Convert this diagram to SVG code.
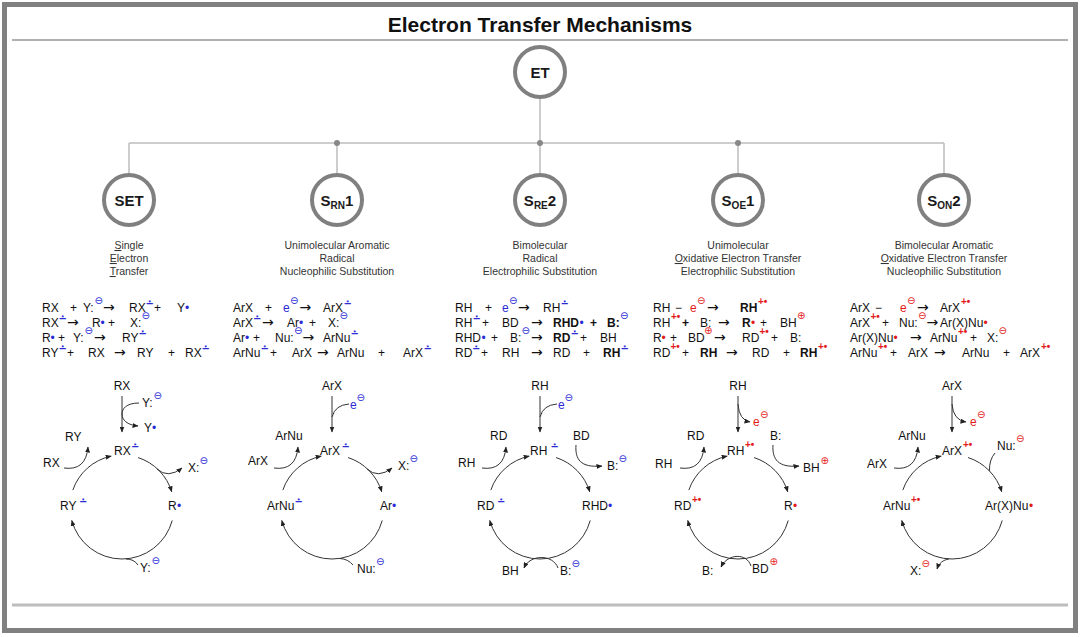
<svg xmlns="http://www.w3.org/2000/svg" width="1080" height="637" viewBox="0 0 1080 637">
<defs>
<style>
text{font-family:"Liberation Sans",Arial,Helvetica,sans-serif;fill:#111}
.eq{font-size:12px}
.b{font-weight:bold}
.bl{fill:#2b2bd6}
.rd{fill:#e31b1b}
.ra{font-family:"DejaVu Sans",sans-serif;font-size:10px;font-weight:bold;fill:#2b2bd6}
.sup{font-size:10px;font-weight:bold}
.s{font-family:"DejaVu Sans",sans-serif;font-size:10px}
.to{font-family:"DejaVu Sans",sans-serif;font-size:14px}
.desc{font-size:10.5px;fill:#333;text-anchor:middle}
.u{text-decoration:underline}
.node{fill:#fff;stroke:#808080;stroke-width:4}
.nt{font-size:15px;font-weight:bold;fill:#1a1a1a;text-anchor:middle}
.tree{stroke:#bdbdbd;stroke-width:1.5;fill:none}
.dot{fill:#888}
.cy{fill:none;stroke:#333;stroke-width:1}
.ar{marker-end:url(#ah)}
.mid{text-anchor:middle}
</style>
<marker id="ah" viewBox="0 0 6 5" refX="5.5" refY="2.5" markerWidth="6" markerHeight="5" markerUnits="userSpaceOnUse" orient="auto"><path d="M0,0 L6,2.5 L0,5 z" fill="#222"/></marker>
<path id="arcA" d="M16.07,-49.45 A52,52 0 0 1 49.73,-15.2"/>
<path id="arcB" d="M50.23,13.46 A52,52 0 0 1 -50.23,13.46"/>
<path id="arcC" d="M-49.17,-16.93 A52,52 0 0 1 -10.81,-50.86"/>
</defs>

<rect x="4.5" y="4.5" width="1071" height="626" fill="#fff" stroke="#808080" stroke-width="5"/>
<text x="540" y="32" font-size="21" font-weight="bold" text-anchor="middle" fill="#111">Electron Transfer Mechanisms</text>
<line x1="12" y1="40" x2="1068" y2="40" stroke="#b0b0b0" stroke-width="2"/>
<line x1="12" y1="605" x2="1068" y2="605" stroke="#bdbdbd" stroke-width="3"/>

<g id="connectors">
<path class="tree" d="M540,99 V143 M129,143 H944 M129,143 V173 M337,143 V173 M540,143 V173 M738,143 V173 M944,143 V173"/>
<circle class="dot" cx="337" cy="143" r="3"/>
<circle class="dot" cx="540" cy="143" r="3"/>
<circle class="dot" cx="738" cy="143" r="3"/>
</g>

<g id="node-ET"><circle class="node" cx="540" cy="72" r="25"/><text class="nt" x="540" y="77.5">ET</text></g>
<g id="node-SET"><circle class="node" cx="129" cy="200" r="25"/><text class="nt" x="129" y="205.5">SET</text></g>
<g id="node-SRN1"><circle class="node" cx="337" cy="200" r="25"/><text class="nt" x="337" y="205.5">S<tspan font-size="10" dy="3">RN</tspan><tspan dy="-3">1</tspan></text></g>
<g id="node-SRE2"><circle class="node" cx="540" cy="200" r="25"/><text class="nt" x="540" y="205.5">S<tspan font-size="10" dy="3">RE</tspan><tspan dy="-3">2</tspan></text></g>
<g id="node-SOE1"><circle class="node" cx="738" cy="200" r="25"/><text class="nt" x="738" y="205.5">S<tspan font-size="10" dy="3">OE</tspan><tspan dy="-3">1</tspan></text></g>
<g id="node-SON2"><circle class="node" cx="944" cy="200" r="25"/><text class="nt" x="944" y="205.5">S<tspan font-size="10" dy="3">ON</tspan><tspan dy="-3">2</tspan></text></g>

<g id="descriptions">
<text class="desc" x="129" y="249"><tspan class="u">S</tspan>ingle</text>
<text class="desc" x="129" y="262"><tspan class="u">E</tspan>lectron</text>
<text class="desc" x="129" y="275"><tspan class="u">T</tspan>ransfer</text>
<text class="desc" x="337" y="249">Unimolecular Aromatic</text>
<text class="desc" x="337" y="262">Radical</text>
<text class="desc" x="337" y="275">Nucleophilic Substitution</text>
<text class="desc" x="540" y="249">Bimolecular</text>
<text class="desc" x="540" y="262">Radical</text>
<text class="desc" x="540" y="275">Electrophilic Substitution</text>
<text class="desc" x="738" y="249">Unimolecular</text>
<text class="desc" x="738" y="262"><tspan class="u">O</tspan>xidative Electron Transfer</text>
<text class="desc" x="738" y="275">Electrophilic Substitution</text>
<text class="desc" x="944" y="249">Bimolecular Aromatic</text>
<text class="desc" x="944" y="262"><tspan class="u">O</tspan>xidative Electron Transfer</text>
<text class="desc" x="944" y="275">Nucleophilic Substitution</text>
</g>

<g id="equations-SET">
<text class="eq"><tspan x="42" y="312">RX</tspan><tspan x="70" y="312">+</tspan><tspan x="83" y="312">Y:</tspan><tspan x="94.5" y="304" class="s bl">⊖</tspan><tspan x="103" y="312" class="to">→</tspan><tspan x="129" y="312">RX</tspan><tspan x="145.5" y="307.2" class="ra">∸</tspan><tspan x="154" y="312">+</tspan><tspan x="177" y="312">Y</tspan><tspan x="185" y="312" class="bl">•</tspan></text>
<text class="eq"><tspan x="42" y="327">RX</tspan><tspan x="58.5" y="322.2" class="ra">∸</tspan><tspan x="67" y="327" class="to">→</tspan><tspan x="92" y="327">R</tspan><tspan x="100.5" y="327" class="bl">•</tspan><tspan x="108" y="327">+</tspan><tspan x="130" y="327">X:</tspan><tspan x="141.5" y="319" class="s bl">⊖</tspan></text>
<text class="eq"><tspan x="42" y="342">R</tspan><tspan x="50.5" y="342" class="bl">•</tspan><tspan x="58" y="342">+</tspan><tspan x="73" y="342">Y:</tspan><tspan x="84.5" y="334" class="s bl">⊖</tspan><tspan x="94" y="342" class="to">→</tspan><tspan x="122" y="342">RY</tspan><tspan x="138.5" y="337.2" class="ra">∸</tspan></text>
<text class="eq"><tspan x="42" y="357">RY</tspan><tspan x="58.5" y="352.2" class="ra">∸</tspan><tspan x="67" y="357">+</tspan><tspan x="88" y="357">RX</tspan><tspan x="114" y="357" class="to">→</tspan><tspan x="137" y="357">RY</tspan><tspan x="168" y="357">+</tspan><tspan x="185" y="357">RX</tspan><tspan x="201.5" y="352.2" class="ra">∸</tspan></text>
</g>

<g id="equations-SRN1">
<text class="eq"><tspan x="233" y="312">ArX</tspan><tspan x="265" y="312">+</tspan><tspan x="283" y="312" class="bl">e</tspan><tspan x="290" y="304" class="s bl">⊖</tspan><tspan x="299.5" y="312" class="to">→</tspan><tspan x="323" y="312">ArX</tspan><tspan x="343.5" y="307.2" class="ra">∸</tspan></text>
<text class="eq"><tspan x="233" y="327">ArX</tspan><tspan x="253" y="322.2" class="ra">∸</tspan><tspan x="262" y="327" class="to">→</tspan><tspan x="287" y="327">Ar</tspan><tspan x="299" y="327" class="bl">•</tspan><tspan x="309" y="327">+</tspan><tspan x="328" y="327">X:</tspan><tspan x="339.5" y="319" class="s bl">⊖</tspan></text>
<text class="eq"><tspan x="233" y="342">Ar</tspan><tspan x="245" y="342" class="bl">•</tspan><tspan x="253" y="342">+</tspan><tspan x="275" y="342">Nu:</tspan><tspan x="294" y="334" class="s bl">⊖</tspan><tspan x="302.5" y="342" class="to">→</tspan><tspan x="323" y="342">ArNu</tspan><tspan x="350.5" y="337.2" class="ra">∸</tspan></text>
<text class="eq"><tspan x="233" y="357">ArNu</tspan><tspan x="260.5" y="352.2" class="ra">∸</tspan><tspan x="270" y="357">+</tspan><tspan x="292" y="357">ArX</tspan><tspan x="317" y="357" class="to">→</tspan><tspan x="337" y="357">ArNu</tspan><tspan x="378" y="357">+</tspan><tspan x="403" y="357">ArX</tspan><tspan x="423.5" y="352.2" class="ra">∸</tspan></text>
</g>

<g id="equations-SRE2">
<text class="eq"><tspan x="455" y="312">RH</tspan><tspan x="485" y="312">+</tspan><tspan x="502" y="312" class="bl">e</tspan><tspan x="509" y="304" class="s bl">⊖</tspan><tspan x="518" y="312" class="to">→</tspan><tspan x="543" y="312">RH</tspan><tspan x="560.5" y="307.2" class="ra">∸</tspan></text>
<text class="eq"><tspan x="455" y="327">RH</tspan><tspan x="472.5" y="322.2" class="ra">∸</tspan><tspan x="482" y="327">+</tspan><tspan x="502" y="327">BD</tspan><tspan x="531" y="327" class="to">→</tspan><tspan x="553" y="327" class="b">RHD</tspan><tspan x="579.5" y="327" class="bl">•</tspan><tspan x="590" y="327" class="b">+</tspan><tspan x="607" y="327" class="b">B:</tspan><tspan x="620" y="319" class="s bl">⊖</tspan></text>
<text class="eq"><tspan x="455" y="342">RHD</tspan><tspan x="481.5" y="342" class="bl">•</tspan><tspan x="491" y="342">+</tspan><tspan x="510" y="342">B:</tspan><tspan x="521.5" y="334" class="s bl">⊖</tspan><tspan x="531" y="342" class="to">→</tspan><tspan x="553" y="342" class="b">RD</tspan><tspan x="570.5" y="337.2" class="ra">∸</tspan><tspan x="580" y="342">+</tspan><tspan x="600" y="342">BH</tspan></text>
<text class="eq"><tspan x="455" y="357">RD</tspan><tspan x="472" y="352.2" class="ra">∸</tspan><tspan x="481" y="357">+</tspan><tspan x="502" y="357">RH</tspan><tspan x="531" y="357" class="to">→</tspan><tspan x="553" y="357">RD</tspan><tspan x="583" y="357">+</tspan><tspan x="603" y="357" class="b">RH</tspan><tspan x="620.5" y="352.2" class="ra">∸</tspan></text>
</g>

<g id="equations-SOE1">
<text class="eq"><tspan x="653" y="312">RH</tspan><tspan x="675" y="312">−</tspan><tspan x="690" y="312" class="rd">e</tspan><tspan x="697" y="304" class="s rd">⊖</tspan><tspan x="707" y="312" class="to">→</tspan><tspan x="740" y="312" class="b">RH</tspan><tspan x="758" y="305" class="rd sup">+•</tspan></text>
<text class="eq"><tspan x="653" y="327">RH</tspan><tspan x="671" y="320" class="rd sup">+•</tspan><tspan x="682" y="327" class="b">+</tspan><tspan x="700" y="327">B:</tspan><tspan x="718" y="327" class="to">→</tspan><tspan x="742" y="327" class="b">R</tspan><tspan x="751" y="327" class="rd">•</tspan><tspan x="760" y="327">+</tspan><tspan x="780" y="327">BH</tspan><tspan x="797" y="319" class="s rd">⊕</tspan></text>
<text class="eq"><tspan x="653" y="342">R</tspan><tspan x="661.5" y="342" class="rd">•</tspan><tspan x="670" y="342">+</tspan><tspan x="688" y="342">BD</tspan><tspan x="704" y="334" class="s rd">⊕</tspan><tspan x="714" y="342" class="to">→</tspan><tspan x="742" y="342">RD</tspan><tspan x="759.5" y="335" class="rd sup">+•</tspan><tspan x="771" y="342">+</tspan><tspan x="790" y="342">B:</tspan></text>
<text class="eq"><tspan x="653" y="357">RD</tspan><tspan x="670.5" y="350" class="rd sup">+•</tspan><tspan x="682" y="357">+</tspan><tspan x="700" y="357" class="b">RH</tspan><tspan x="726" y="357" class="to">→</tspan><tspan x="752" y="357">RD</tspan><tspan x="783" y="357">+</tspan><tspan x="800" y="357" class="b">RH</tspan><tspan x="818" y="350" class="rd sup">+•</tspan></text>
</g>

<g id="equations-SON2">
<text class="eq"><tspan x="850" y="312">ArX</tspan><tspan x="875" y="312">−</tspan><tspan x="900" y="312" class="rd">e</tspan><tspan x="907" y="304" class="s rd">⊖</tspan><tspan x="917" y="312" class="to">→</tspan><tspan x="940" y="312">ArX</tspan><tspan x="961" y="305" class="rd sup">+•</tspan></text>
<text class="eq"><tspan x="850" y="327">ArX</tspan><tspan x="870.5" y="320" class="rd sup">+•</tspan><tspan x="882" y="327">+</tspan><tspan x="899" y="327">Nu:</tspan><tspan x="918" y="319" class="s rd">⊖</tspan><tspan x="926.5" y="327" class="to">→</tspan><tspan x="940" y="327">Ar(X)Nu</tspan><tspan x="983.5" y="327" class="rd">•</tspan></text>
<text class="eq"><tspan x="850" y="342">Ar(X)Nu</tspan><tspan x="893.5" y="342" class="rd">•</tspan><tspan x="910" y="342" class="to">→</tspan><tspan x="930" y="342">ArNu</tspan><tspan x="958" y="335" class="rd sup">+•</tspan><tspan x="970" y="342">+</tspan><tspan x="987" y="342">X:</tspan><tspan x="998.5" y="334" class="s rd">⊖</tspan></text>
<text class="eq"><tspan x="850" y="357">ArNu</tspan><tspan x="878" y="350" class="rd sup">+•</tspan><tspan x="890" y="357">+</tspan><tspan x="908" y="357">ArX</tspan><tspan x="934" y="357" class="to">→</tspan><tspan x="962" y="357">ArNu</tspan><tspan x="1003" y="357">+</tspan><tspan x="1020" y="357">ArX</tspan><tspan x="1041" y="350" class="rd sup">+•</tspan></text>
</g>

<g id="cycle-SET" transform="translate(122,507)">
<use href="#arcA" class="cy ar"/><use href="#arcB" class="cy ar"/><use href="#arcC" class="cy ar"/>
<path class="cy ar" d="M0,-111 V-75"/>
<path class="cy ar" d="M17,-104 C4,-104 0,-98 0,-93 C0,-87 5,-82 16,-81"/>
<path class="cy ar" d="M35,-38 Q46,-28 60,-39"/>
<path class="cy ar" d="M-58,-39 Q-36,-36 -34,-60"/>
<path class="cy" d="M16,58 Q12,52 4,52"/>
<text class="eq mid" x="0" y="-117">RX</text>
<text class="eq"><tspan x="-8" y="-52">RX</tspan><tspan x="9" y="-56.8" class="ra">∸</tspan></text>
<text class="eq"><tspan x="20" y="-100">Y:</tspan><tspan x="31.5" y="-108" class="s bl">⊖</tspan></text>
<text class="eq"><tspan x="22" y="-75">Y</tspan><tspan x="30" y="-75" class="bl">•</tspan></text>
<text class="eq"><tspan x="46" y="3">R</tspan><tspan x="55" y="3" class="bl">•</tspan></text>
<text class="eq"><tspan x="66" y="-35">X:</tspan><tspan x="77.5" y="-43" class="s bl">⊖</tspan></text>
<text class="eq"><tspan x="-62" y="3">RY</tspan><tspan x="-43" y="-1.8" class="ra">∸</tspan></text>
<text class="eq" x="-57" y="-66">RY</text>
<text class="eq" x="-79" y="-40">RX</text>
<text class="eq"><tspan x="18" y="65">Y:</tspan><tspan x="29.5" y="57" class="s bl">⊖</tspan></text>
</g>

<g id="cycle-SRN1" transform="translate(332,507)">
<use href="#arcA" class="cy ar"/><use href="#arcB" class="cy ar"/><use href="#arcC" class="cy ar"/>
<path class="cy ar" d="M0,-111 V-75"/>
<path class="cy" d="M17,-103 Q3,-102 0,-90"/>
<path class="cy ar" d="M35,-38 Q46,-28 60,-39"/>
<path class="cy ar" d="M-58,-39 Q-36,-36 -34,-60"/>
<path class="cy" d="M21,58 Q16,52 8,51.5"/>
<text class="eq mid" x="0" y="-117">ArX</text>
<text class="eq"><tspan x="18" y="-98" class="bl">e</tspan><tspan x="24.5" y="-106" class="s bl">⊖</tspan></text>
<text class="eq"><tspan x="-12" y="-52">ArX</tspan><tspan x="9.5" y="-56.8" class="ra">∸</tspan></text>
<text class="eq"><tspan x="48" y="3">Ar</tspan><tspan x="60" y="3" class="bl">•</tspan></text>
<text class="eq"><tspan x="66" y="-37">X:</tspan><tspan x="77.5" y="-45" class="s bl">⊖</tspan></text>
<text class="eq"><tspan x="-65" y="3">ArNu</tspan><tspan x="-37.5" y="-1.8" class="ra">∸</tspan></text>
<text class="eq mid" x="-43" y="-67">ArNu</text>
<text class="eq" x="-84" y="-42">ArX</text>
<text class="eq"><tspan x="25" y="66">Nu:</tspan><tspan x="44" y="58" class="s bl">⊖</tspan></text>
</g>

<g id="cycle-SRE2" transform="translate(540,507)">
<use href="#arcA" class="cy ar"/><use href="#arcB" class="cy ar"/><use href="#arcC" class="cy ar"/>
<path class="cy ar" d="M0,-111 V-75"/>
<path class="cy" d="M17,-103 Q3,-102 0,-90"/>
<path class="cy ar" d="M36,-62 C35,-48 40,-39 62,-41"/>
<path class="cy ar" d="M-58,-39 Q-36,-36 -34,-60"/>
<path class="cy ar" d="M18,61 C13,47 -10,47 -16,61"/>
<text class="eq mid" x="0" y="-117">RH</text>
<text class="eq"><tspan x="18" y="-98" class="bl">e</tspan><tspan x="24.5" y="-106" class="s bl">⊖</tspan></text>
<text class="eq"><tspan x="-10" y="-52">RH</tspan><tspan x="10.5" y="-56.8" class="ra">∸</tspan></text>
<text class="eq"><tspan x="42" y="3">RHD</tspan><tspan x="68" y="3" class="bl">•</tspan></text>
<text class="eq" x="33" y="-67">BD</text>
<text class="eq"><tspan x="67" y="-37">B:</tspan><tspan x="78.5" y="-45" class="s bl">⊖</tspan></text>
<text class="eq"><tspan x="-63" y="3">RD</tspan><tspan x="-43" y="-1.8" class="ra">∸</tspan></text>
<text class="eq" x="-50" y="-67">RD</text>
<text class="eq" x="-82" y="-40">RH</text>
<text class="eq" x="-38" y="68">BH</text>
<text class="eq"><tspan x="20" y="68">B:</tspan><tspan x="31.5" y="60" class="s bl">⊖</tspan></text>
</g>

<g id="cycle-SOE1" transform="translate(738,507)">
<use href="#arcA" class="cy ar"/><use href="#arcB" class="cy ar"/><use href="#arcC" class="cy ar"/>
<path class="cy ar" d="M0,-111 V-75"/>
<path class="cy ar" d="M0,-103 Q1,-87 12,-85"/>
<path class="cy ar" d="M35,-62 C34,-48 40,-39 61,-41"/>
<path class="cy ar" d="M-58,-39 Q-36,-36 -34,-60"/>
<path class="cy ar" d="M13,59 C9,46 -10,46 -17,60"/>
<text class="eq mid" x="0" y="-117">RH</text>
<text class="eq"><tspan x="15" y="-81" class="rd">e</tspan><tspan x="22" y="-89" class="s rd">⊖</tspan></text>
<text class="eq"><tspan x="-11" y="-52">RH</tspan><tspan x="7" y="-59" class="rd sup">+•</tspan></text>
<text class="eq"><tspan x="46" y="3">R</tspan><tspan x="55" y="3" class="rd">•</tspan></text>
<text class="eq" x="32" y="-67">B:</text>
<text class="eq"><tspan x="65" y="-35">BH</tspan><tspan x="82.5" y="-43" class="s rd">⊕</tspan></text>
<text class="eq"><tspan x="-64" y="3">RD</tspan><tspan x="-46" y="-4" class="rd sup">+•</tspan></text>
<text class="eq" x="-51" y="-67">RD</text>
<text class="eq" x="-83" y="-39">RH</text>
<text class="eq" x="-36" y="68">B:</text>
<text class="eq"><tspan x="14" y="66">BD</tspan><tspan x="31.5" y="58" class="s rd">⊕</tspan></text>
</g>

<g id="cycle-SON2" transform="translate(952,507)">
<use href="#arcA" class="cy ar"/><use href="#arcB" class="cy ar"/><use href="#arcC" class="cy ar"/>
<path class="cy ar" d="M0,-111 V-75"/>
<path class="cy ar" d="M0,-103 Q1,-87 14,-85"/>
<path class="cy" d="M43,-54 Q37,-47 37.5,-36"/>
<path class="cy ar" d="M-58,-39 Q-36,-36 -34,-60"/>
<path class="cy ar" d="M-3,52 C-9,53 -13,56 -15,62"/>
<text class="eq mid" x="0" y="-117">ArX</text>
<text class="eq"><tspan x="18" y="-81" class="rd">e</tspan><tspan x="25" y="-89" class="s rd">⊖</tspan></text>
<text class="eq"><tspan x="-10" y="-52">ArX</tspan><tspan x="11" y="-59" class="rd sup">+•</tspan></text>
<text class="eq"><tspan x="33" y="3">Ar(X)Nu</tspan><tspan x="77" y="3" class="rd">•</tspan></text>
<text class="eq"><tspan x="45" y="-57">Nu:</tspan><tspan x="64" y="-65" class="s rd">⊖</tspan></text>
<text class="eq"><tspan x="-69" y="3">ArNu</tspan><tspan x="-41" y="-4" class="rd sup">+•</tspan></text>
<text class="eq mid" x="-40" y="-67">ArNu</text>
<text class="eq" x="-85" y="-39">ArX</text>
<text class="eq"><tspan x="-42" y="68">X:</tspan><tspan x="-30.5" y="60" class="s rd">⊖</tspan></text>
</g>
</svg>
